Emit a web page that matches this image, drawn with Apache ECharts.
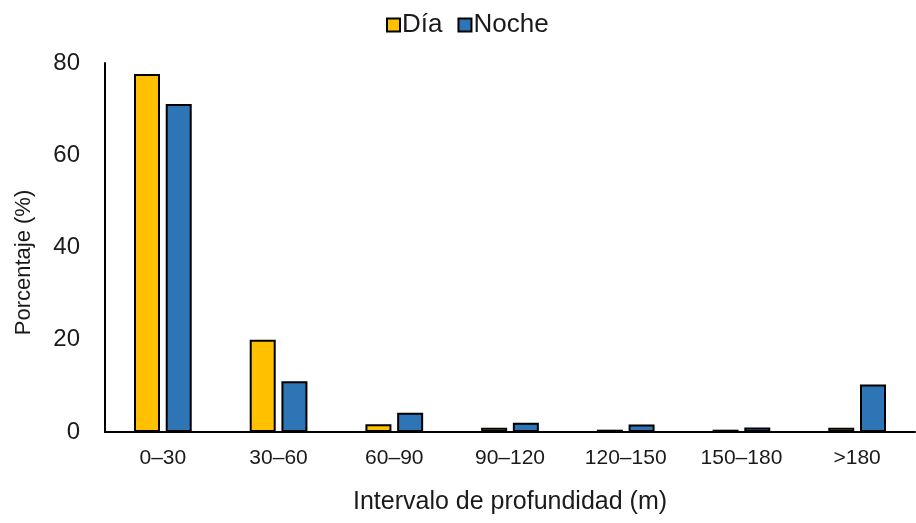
<!DOCTYPE html>
<html>
<head>
<meta charset="utf-8">
<script src="https://cdn.jsdelivr.net/npm/echarts@6/dist/echarts.min.js"></script>
<style>
html,body{margin:0;padding:0;background:#fff;}
#chart{width:916px;height:523px;}
</style>
</head>
<body>
<div id="chart"></div>
<script>
// Depth intervals and share of time spent in each (%)
const categories = ['0–30', '30–60', '60–90', '90–120', '120–150', '150–180', '>180'];
const dia = [77.6, 20, 1.7, 0.9, 0.5, 0.5, 0.9];
const noche = [71.1, 11, 4.2, 2, 1.6, 1, 10.3];
const yTicks = [0, 20, 40, 60, 80];

const font = 'Liberation Sans, Arial, sans-serif';
const chart = echarts.init(document.getElementById('chart'));
chart.setOption({
  animation: false,
  textStyle: { fontFamily: font, color: '#1a1a1a' },
  legend: {
    top: 7,
    left: 381,
    icon: 'rect',
    itemWidth: 13,
    itemHeight: 13,
    itemGap: 15,
    textStyle: { fontSize: 26, fontFamily: font, color: '#1a1a1a', padding: [0, 0, 0, -3] },
    data: [
      { name: 'Día', itemStyle: { borderColor: '#000', borderWidth: 2 } },
      { name: 'Noche', itemStyle: { borderColor: '#000', borderWidth: 2 } }
    ]
  },
  grid: { left: 105, right: 1, top: 63, bottom: 91 },
  xAxis: {
    type: 'category',
    data: categories,
    axisLine: { lineStyle: { color: '#000', width: 2 } },
    axisTick: { show: false },
    axisLabel: { fontSize: 21, color: '#1a1a1a', margin: 16, fontFamily: font },
    name: 'Intervalo de profundidad (m)',
    nameLocation: 'middle',
    nameGap: 58,
    nameTextStyle: { fontSize: 25, color: '#1a1a1a', fontFamily: font }
  },
  yAxis: {
    type: 'value',
    min: yTicks[0],
    max: yTicks[yTicks.length - 1],
    interval: 20,
    splitLine: { show: false },
    axisLine: { show: true, lineStyle: { color: '#000', width: 2 } },
    axisTick: { show: false },
    axisLabel: { fontSize: 24, color: '#1a1a1a', margin: 25, fontFamily: font },
    name: 'Porcentaje (%)',
    nameLocation: 'middle',
    nameGap: 70,
    nameTextStyle: { fontSize: 22, color: '#1a1a1a', fontFamily: font, padding: [0, 30, 0, 0] }
  },
  series: [
    {
      name: 'Día',
      type: 'bar',
      data: dia,
      barWidth: 26,
      barGap: '22%',
      itemStyle: { color: '#FFC000', borderColor: '#000', borderWidth: 2 }
    },
    {
      name: 'Noche',
      type: 'bar',
      data: noche,
      barWidth: 26,
      barGap: '22%',
      itemStyle: { color: '#2E75B6', borderColor: '#000', borderWidth: 2 }
    }
  ]
});
</script>
</body>
</html>
